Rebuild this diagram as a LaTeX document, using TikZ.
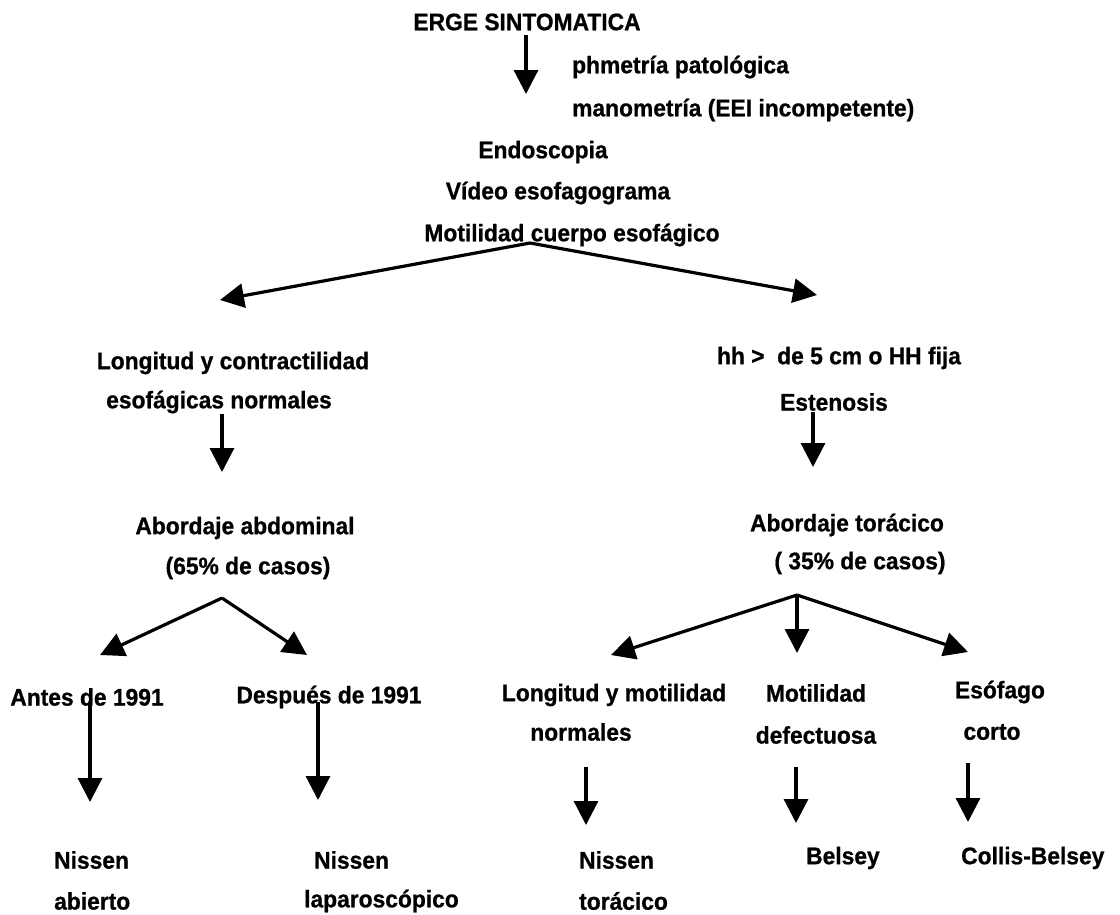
\documentclass[tikz,border=0pt]{standalone}
\usepackage{fontspec}
\setmainfont{Liberation Sans}[FakeStretch=0.95,BoldFeatures={FakeBold=0.8}]
\usetikzlibrary{arrows.meta}
\tikzset{
  txt/.style={font=\fontsize{24}{28}\selectfont\bfseries, inner sep=0pt},
  flecha/.style={line width=3.2pt, -{Triangle[width=24pt,length=24pt]}},
  linea/.style={line width=3.2pt}
}
\begin{document}
\begin{tikzpicture}[x=1pt,y=-1pt]
  \useasboundingbox (0,0) rectangle (1120,914);
  % top block
  \node[txt] (erge) at (527,22) {ERGE SINTOMATICA};
  \node[txt,anchor=west] (phm) at (572,67) {phmetría patológica};
  \node[txt,anchor=west] (mano) at (572,110) {manometría (EEI incompetente)};
  \node[txt] (endo) at (543,152) {Endoscopia};
  \node[txt] (video) at (558,193) {Vídeo esofagograma};
  \node[txt] (moti) at (572,235) {Motilidad cuerpo esofágico};
  \coordinate (e0) at (526,35);
  \coordinate (e1) at (526,94);
  \draw[flecha] (e0) -- (e1);
  % first split
  \coordinate (v1) at (530,243);
  \coordinate (v1l) at (220,300);
  \coordinate (v1r) at (817,295);
  \draw[flecha] (v1) -- (v1l);
  \draw[flecha] (v1) -- (v1r);
  % left branch
  \node[txt] (longA) at (233,363) {Longitud y contractilidad};
  \node[txt] (esofA) at (219,402) {esofágicas normales};
  \coordinate (l0) at (222,414);
  \coordinate (l1) at (222,472);
  \draw[flecha] (l0) -- (l1);
  \node[txt] (abd) at (245,528) {Abordaje abdominal};
  \node[txt] (cas65) at (248,568) {(65\% de casos)};
  \coordinate (v2) at (222,598);
  \coordinate (v2l) at (100,655);
  \coordinate (v2r) at (307,655);
  \draw[flecha] (v2) -- (v2l);
  \draw[flecha] (v2) -- (v2r);
  \node[txt] (antes) at (87,697) {Antes de 1991};
  \node[txt] (desp) at (329,697) {Después de 1991};
  \coordinate (a0) at (90,702);
  \coordinate (a1) at (90,802);
  \coordinate (d0) at (318,702);
  \coordinate (d1) at (318,800);
  \draw[flecha] (a0) -- (a1);
  \draw[flecha] (d0) -- (d1);
  \node[txt,anchor=west] (nis1) at (54,860) {Nissen};
  \node[txt,anchor=west] (abierto) at (54,901) {abierto};
  \node[txt,anchor=west] (nis2) at (314,860) {Nissen};
  \node[txt,anchor=west] (lapar) at (304,901) {laparoscópico};
  % right branch
  \node[txt] (hh) at (839,358) {hh >\ \ de 5 cm\ o HH fija};
  \node[txt] (esten) at (834,402) {Estenosis};
  \coordinate (r0) at (813,412);
  \coordinate (r1) at (813,467);
  \draw[flecha] (r0) -- (r1);
  \node[txt] (tor) at (847,525) {Abordaje torácico};
  \node[txt] (cas35) at (860,563) {( 35\% de casos)};
  \coordinate (v3) at (797,595);
  \coordinate (v3l) at (611,655);
  \coordinate (v3m) at (797,653);
  \coordinate (v3r) at (968,652);
  \draw[flecha] (v3) -- (v3l);
  \draw[flecha] (v3) -- (v3m);
  \draw[flecha] (v3) -- (v3r);
  \node[txt] (longB) at (614,695) {Longitud y motilidad};
  \node[txt] (normB) at (581,732) {normales};
  \node[txt] (motB) at (816,693) {Motilidad};
  \node[txt] (defB) at (816,735) {defectuosa};
  \node[txt] (esoB) at (1000,692) {Esófago};
  \node[txt] (cortoB) at (992,732) {corto};
  \coordinate (n0) at (586,767);
  \coordinate (n1) at (586,825);
  \coordinate (b0) at (796,767);
  \coordinate (b1) at (796,823);
  \coordinate (c0) at (968,763);
  \coordinate (c1) at (968,822);
  \draw[flecha] (n0) -- (n1);
  \draw[flecha] (b0) -- (b1);
  \draw[flecha] (c0) -- (c1);
  \node[txt,anchor=west] (nis3) at (579,860) {Nissen};
  \node[txt,anchor=west] (toracico) at (579,901) {torácico};
  \node[txt,anchor=west] (belsey) at (806,858) {Belsey};
  \node[txt,anchor=west] (collis) at (961,858) {Collis-Belsey};
\end{tikzpicture}
\end{document}
